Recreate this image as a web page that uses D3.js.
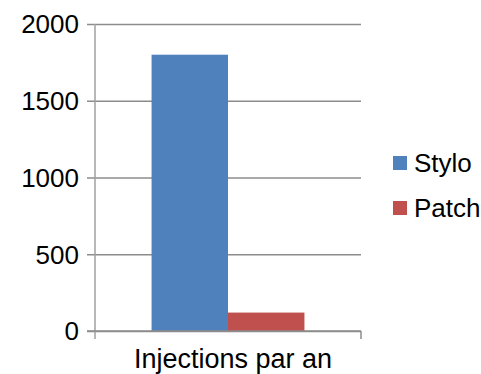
<!DOCTYPE html>
<html><head><meta charset="utf-8">
<script src="https://cdn.jsdelivr.net/npm/d3@7"></script>
<style>body{margin:0;background:#fff}svg{display:block}</style>
</head><body>
<svg id="c" width="481" height="374"></svg>
<script>
const categories = ["Injections par an"];
const seriesNames = ["Stylo", "Patch"];
const seriesColors = ["#4F81BD", "#C0504D"];
const styloValues = [1800];
const patchValues = [120];
const yTicks = [0, 500, 1000, 1500, 2000];

(function () {
const svg = d3.select("#c");
const font = "'Liberation Sans', Arial, sans-serif";
const pLeft = 95, pRight = 361, pTop = 24, pBottom = 331;

const y = d3.scaleLinear().domain([0, 2000]).range([pBottom, pTop]);
const x = d3.scaleBand().domain(categories).range([pLeft, pRight]).padding(0);
const xs = d3.scaleBand().domain(seriesNames).range([0, x.bandwidth()]).paddingInner(0).paddingOuter(0.74);

// gridlines + y ticks
const yAxis = d3.axisLeft(y).tickValues(yTicks).tickSize(-(pRight - pLeft)).tickSizeOuter(0).tickPadding(16).tickFormat(d3.format("d"));
const gy = svg.append("g").attr("transform", `translate(${pLeft},0)`).call(yAxis);
gy.select(".domain").remove();
gy.selectAll(".tick line").attr("x1", -8).attr("stroke", "#8c8c8c").attr("stroke-width", 1.5);
gy.selectAll(".tick text").attr("font-family", font).attr("font-size", 26).attr("fill", "#000").attr("dy", "0.34em");

// bars
const data = [styloValues, patchValues];
categories.forEach((c, ci) => {
  seriesNames.forEach((s, si) => {
    svg.append("rect")
      .attr("x", x(c) + xs(s))
      .attr("y", y(data[si][ci]))
      .attr("width", xs.bandwidth())
      .attr("height", y(0) - y(data[si][ci]))
      .attr("fill", seriesColors[si]);
  });
});

// y axis line
svg.append("line").attr("x1", pLeft).attr("x2", pLeft).attr("y1", pTop).attr("y2", pBottom + 8)
  .attr("stroke", "#a0a0a0").attr("stroke-width", 1.5);
// x axis
svg.append("line").attr("x1", pLeft - 8).attr("x2", pRight).attr("y1", pBottom).attr("y2", pBottom)
  .attr("stroke", "#8c8c8c").attr("stroke-width", 1.5);
svg.append("line").attr("x1", pRight).attr("x2", pRight).attr("y1", pBottom).attr("y2", pBottom + 8)
  .attr("stroke", "#8c8c8c").attr("stroke-width", 1.5);

// x label
categories.forEach(c => {
  svg.append("text").attr("x", x(c) + x.bandwidth() / 2 + 5).attr("y", 368)
    .attr("text-anchor", "middle").attr("font-family", font).attr("font-size", 27)
    .attr("fill", "#000").text(c);
});

// legend
const legY = [163, 208];
seriesNames.forEach((s, i) => {
  svg.append("rect").attr("x", 393).attr("y", legY[i] - 7).attr("width", 14).attr("height", 14).attr("fill", seriesColors[i]);
  svg.append("text").attr("x", 414).attr("y", legY[i] + 9).attr("font-family", font).attr("font-size", 26)
    .attr("fill", "#000").text(s);
});
})();
</script>
</body></html>
